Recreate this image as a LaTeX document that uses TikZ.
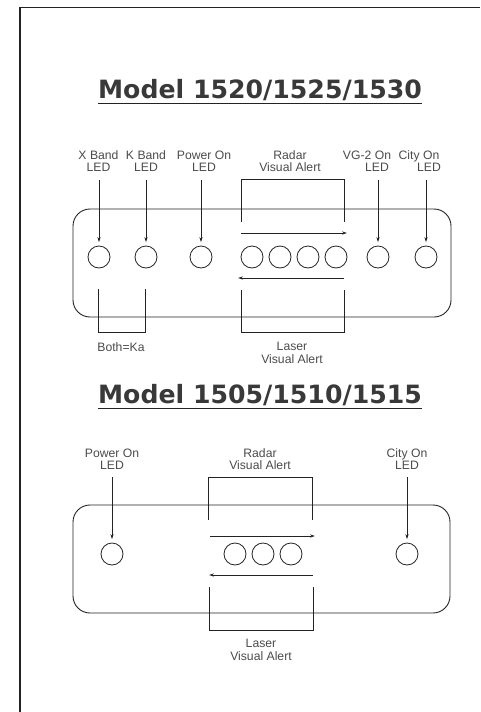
\documentclass[tikz,border=0pt]{standalone}
\usepackage{fontspec}
\setmainfont{Liberation Sans}
\newfontfamily\titlefont{DejaVu Sans}
\usetikzlibrary{arrows.meta}
\definecolor{txtgray}{RGB}{75,75,75}
\definecolor{ink}{RGB}{35,35,35}
\begin{document}
\begin{tikzpicture}[x=1pt,y=-1pt,
  lbl/.style={font=\fontsize{12.2}{13}\selectfont, text=txtgray, inner sep=0pt, anchor=base},
  ttl/.style={font=\titlefont\bfseries\fontsize{25.2}{29}\selectfont, text=ink!90!white, inner sep=0pt, anchor=base},
  led/.style={circle, draw=ink, line width=0.8pt, minimum size=22pt, inner sep=0pt},
  arr/.style={draw=ink, line width=0.8pt, -{Stealth[length=5pt,width=3.2pt]}},
  ln/.style={draw=ink, line width=0.8pt},
  panel/.style={draw=ink, line width=0.9pt, rounded corners=17pt}]
\useasboundingbox (0,0) rectangle (480,712);
% frame
\draw[line width=1.6pt, ink] (20,712) -- (20,7.5) -- (480,7.5);

% ===== Model 1520/1525/1530 =====
\node[ttl] (t1) at (260,98) {Model 1520/1525/1530};
\draw[ln, line width=1.2pt] ([yshift=-5.5pt]t1.base west) -- ([yshift=-5.5pt]t1.base east);

\draw[panel] (73,209) rectangle (451,317);

\node[led] (xb) at (99,257) {};
\node[led] (kb) at (146,257) {};
\node[led] (pw) at (201,257) {};
\node[led] (r1) at (252,257) {};
\node[led] (r2) at (280,257) {};
\node[led] (r3) at (308,257) {};
\node[led] (r4) at (336,257) {};
\node[led] (vg) at (378,257) {};
\node[led] (ct) at (426,257) {};

\node[lbl] (xbA) at (98.5,159) {X Band};
\node[lbl] (xbB) at (98.5,171) {LED};
\node[lbl] (kbA) at (146,159) {K Band};
\node[lbl] (kbB) at (146,171) {LED};
\node[lbl] (pwA) at (204,159) {Power On};
\node[lbl] (pwB) at (204,171) {LED};
\node[lbl] (rdA) at (290,159) {Radar};
\node[lbl] (rdB) at (290,171) {Visual Alert};
\node[lbl] (vgA) at (367,159) {VG-2 On};
\node[lbl] (vgB) at (377,171) {LED};
\node[lbl] (ctA) at (419,159) {City On};
\node[lbl] (ctB) at (429,171) {LED};

\coordinate (xbS) at (99,180);
\coordinate (kbS) at (146,180);
\coordinate (pwS) at (201,180);
\coordinate (vgS) at (378,180);
\coordinate (ctS) at (426,180);
\draw[arr, shorten >=3.5pt] (xbS) -- (xb.north);
\draw[arr, shorten >=3.5pt] (kbS) -- (kb.north);
\draw[arr, shorten >=3.5pt] (pwS) -- (pw.north);
\draw[arr, shorten >=3.5pt] (vgS) -- (vg.north);
\draw[arr, shorten >=3.5pt] (ctS) -- (ct.north);

% radar bracket and arrows
\draw[ln] (241,222) -- (241,179) -- (344,179) -- (344,222);
\draw[arr] (241,233) -- (347,233);
\draw[arr] (344,278) -- (238,278);
% laser bracket
\draw[ln] (241,290) -- (241,332) -- (344,332) -- (344,290);
\node[lbl] (lsA) at (292,350) {Laser};
\node[lbl] (lsB) at (292,363) {Visual Alert};
% Both=Ka bracket
\draw[ln] (98,289) -- (98,332) -- (145,332) -- (145,289);
\node[lbl] (ka) at (121,351) {Both=Ka};

% ===== Model 1505/1510/1515 =====
\node[ttl] (t2) at (260,403) {Model 1505/1510/1515};
\draw[ln, line width=1.2pt] ([yshift=-5.5pt]t2.base west) -- ([yshift=-5.5pt]t2.base east);

\draw[panel] (73,505) rectangle (450,613);

\node[led] (pw2) at (112,554) {};
\node[led] (q1) at (235,554) {};
\node[led] (q2) at (263,554) {};
\node[led] (q3) at (291,554) {};
\node[led] (ct2) at (407,554) {};

\node[lbl] (pw2A) at (112,457) {Power On};
\node[lbl] (pw2B) at (112,469) {LED};
\node[lbl] (rd2A) at (260,457) {Radar};
\node[lbl] (rd2B) at (260,469) {Visual Alert};
\node[lbl] (ct2A) at (407,457) {City On};
\node[lbl] (ct2B) at (407,469) {LED};

\coordinate (pw2S) at (112,477);
\coordinate (ct2S) at (407,477);
\draw[arr, shorten >=3.5pt] (pw2S) -- (pw2.north);
\draw[arr, shorten >=3.5pt] (ct2S) -- (ct2.north);

\draw[ln] (208,520) -- (208,477) -- (312,477) -- (312,520);
\draw[arr] (210,536) -- (315,536);
\draw[arr] (313,575) -- (209,575);
\draw[ln] (209,587) -- (209,630) -- (313,630) -- (313,587);
\node[lbl] (ls2A) at (261,647) {Laser};
\node[lbl] (ls2B) at (261,660) {Visual Alert};
\end{tikzpicture}
\end{document}
